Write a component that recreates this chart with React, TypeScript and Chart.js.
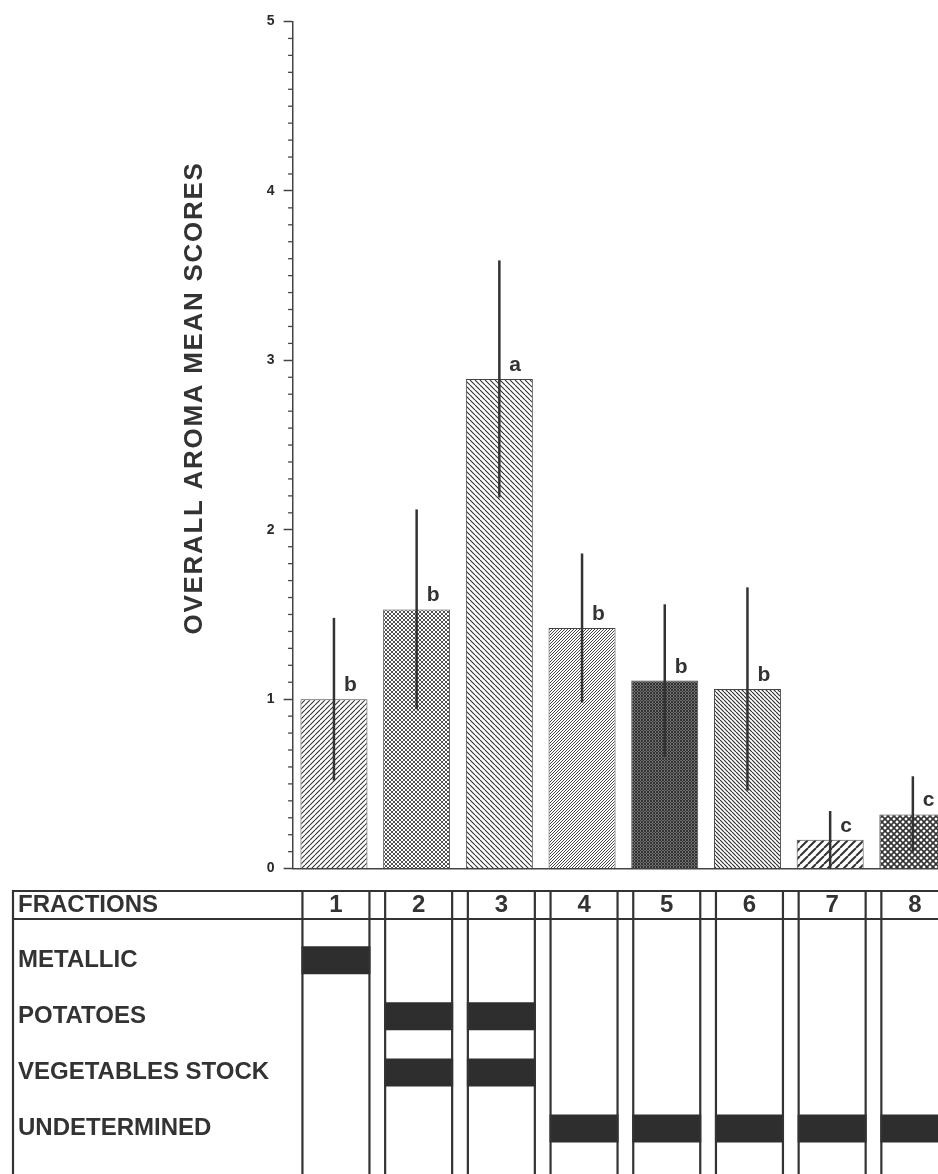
import React, { useEffect, useRef } from 'react';
import { Chart, registerables } from 'chart.js';

Chart.register(...registerables);

// ---------- data ----------
const FRACTIONS = ['1', '2', '3', '4', '5', '6', '7', '8'];
const MEAN_SCORES = [1.0, 1.53, 2.89, 1.42, 1.11, 1.06, 0.17, 0.32];
const ERROR_HALF = [0.48, 0.59, 0.7, 0.44, 0.45, 0.6, 0.17, 0.225];
const SIGNIFICANCE = ['b', 'b', 'a', 'b', 'b', 'b', 'c', 'c'];
const Y_AXIS_TITLE = 'OVERALL AROMA MEAN SCORES';
const TABLE_HEADER = 'FRACTIONS';
const DESCRIPTORS = ['METALLIC', 'POTATOES', 'VEGETABLES STOCK', 'UNDETERMINED'];
const METALLIC = [1, 0, 0, 0, 0, 0, 0, 0];
const POTATOES = [0, 1, 1, 0, 0, 0, 0, 0];
const VEGETABLES_STOCK = [0, 1, 1, 0, 0, 0, 0, 0];
const UNDETERMINED = [0, 0, 0, 1, 1, 1, 1, 1];
const DESCRIPTOR_ROWS = [METALLIC, POTATOES, VEGETABLES_STOCK, UNDETERMINED];

// ---------- styling ----------
const INK = '#333333';
const FONT = '"Liberation Sans", Arial, Helvetica, sans-serif';
const CANVAS_W = 960;
const TOP_H = 886;
const TABLE_TOP = 880;
const TABLE_H = 294;
const CAT_W = 82.7;

type Kind = 'fwd' | 'back' | 'cross';
const PATTERN_SPECS: { kind: Kind; size: number; lw: number }[] = [
  { kind: 'fwd', size: 5, lw: 1.1 },
  { kind: 'cross', size: 4, lw: 0.85 },
  { kind: 'back', size: 5, lw: 1.1 },
  { kind: 'fwd', size: 3, lw: 0.9 },
  { kind: 'cross', size: 3, lw: 1.3 },
  { kind: 'back', size: 4, lw: 1.2 },
  { kind: 'fwd', size: 8, lw: 2 },
  { kind: 'cross', size: 6, lw: 1.6 },
];

function makePattern(kind: Kind, size: number, lw: number): CanvasPattern | string {
  const c = document.createElement('canvas');
  c.width = size;
  c.height = size;
  const g = c.getContext('2d');
  if (!g) return '#fff';
  g.fillStyle = '#ffffff';
  g.fillRect(0, 0, size, size);
  g.strokeStyle = INK;
  g.lineWidth = lw;
  const fwd = () => {
    g.beginPath();
    for (const o of [-size, 0, size]) {
      g.moveTo(o, size);
      g.lineTo(o + size, 0);
    }
    g.stroke();
  };
  const back = () => {
    g.beginPath();
    for (const o of [-size, 0, size]) {
      g.moveTo(o, 0);
      g.lineTo(o + size, size);
    }
    g.stroke();
  };
  if (kind === 'fwd' || kind === 'cross') fwd();
  if (kind === 'back' || kind === 'cross') back();
  return g.createPattern(c, 'repeat') || '#fff';
}

const topDecor = {
  id: 'topDecor',
  afterDatasetsDraw(chart: any) {
    const ctx = chart.ctx as CanvasRenderingContext2D;
    const y = chart.scales.y;
    const meta = chart.getDatasetMeta(0);
    ctx.save();
    ctx.strokeStyle = INK;
    ctx.lineWidth = 2.5;
    ctx.fillStyle = INK;
    ctx.font = `bold 21px ${FONT}`;
    ctx.textAlign = 'left';
    ctx.textBaseline = 'alphabetic';
    meta.data.forEach((bar: any, i: number) => {
      const v = MEAN_SCORES[i];
      const e = ERROR_HALF[i];
      const yTop = y.getPixelForValue(v + e);
      const yBot = y.getPixelForValue(Math.max(v - e, 0));
      ctx.beginPath();
      ctx.moveTo(bar.x, yTop);
      ctx.lineTo(bar.x, yBot);
      ctx.stroke();
      ctx.fillText(SIGNIFICANCE[i], bar.x + 10, y.getPixelForValue(v) - 8);
    });
    ctx.restore();
  },
  afterDraw(chart: any) {
    const ctx = chart.ctx as CanvasRenderingContext2D;
    const y = chart.scales.y;
    const left = chart.chartArea.left;
    ctx.save();
    // minor ticks every 0.1
    ctx.strokeStyle = '#444';
    ctx.lineWidth = 1.3;
    for (let k = 1; k < 50; k++) {
      if (k % 10 === 0) continue;
      const py = y.getPixelForValue(k / 10);
      ctx.beginPath();
      ctx.moveTo(left - 4.5, py);
      ctx.lineTo(left, py);
      ctx.stroke();
    }
    // rotated axis title
    ctx.translate(195, 398);
    ctx.rotate(-Math.PI / 2);
    ctx.fillStyle = INK;
    ctx.font = `bold 26px ${FONT}`;
    (ctx as any).letterSpacing = '1.7px';
    ctx.textAlign = 'center';
    ctx.textBaseline = 'middle';
    ctx.fillText(Y_AXIS_TITLE, 0, 0);
    ctx.restore();
  },
};

const tableDecor = {
  id: 'tableDecor',
  afterDatasetsDraw(chart: any) {
    const ctx = chart.ctx as CanvasRenderingContext2D;
    const x = chart.scales.x;
    const H = chart.height;
    const W = chart.width;
    ctx.save();
    ctx.strokeStyle = INK;
    ctx.lineWidth = 2.2;
    ctx.beginPath();
    ctx.moveTo(12, 11);
    ctx.lineTo(W, 11);
    ctx.moveTo(12, 39);
    ctx.lineTo(W, 39);
    ctx.moveTo(13, 10);
    ctx.lineTo(13, H);
    FRACTIONS.forEach((_, i) => {
      const cx = x.getPixelForValue(i);
      ctx.moveTo(cx - 33.5, 10);
      ctx.lineTo(cx - 33.5, H);
      ctx.moveTo(cx + 33.5, 10);
      ctx.lineTo(cx + 33.5, H);
    });
    ctx.stroke();
    ctx.fillStyle = INK;
    ctx.font = `bold 24px ${FONT}`;
    ctx.textBaseline = 'middle';
    ctx.textAlign = 'left';
    ctx.fillText(TABLE_HEADER, 18, 25);
    ctx.textAlign = 'center';
    (chart.data.labels as string[]).forEach((lab, i) => {
      ctx.fillText(lab, x.getPixelForValue(i), 25);
    });
    ctx.restore();
  },
};

export default function App() {
  const topRef = useRef<HTMLCanvasElement | null>(null);
  const tableRef = useRef<HTMLCanvasElement | null>(null);

  useEffect(() => {
    if (!topRef.current || !tableRef.current) return;
    const patterns = PATTERN_SPECS.map((p) => makePattern(p.kind, p.size, p.lw));
    const topLeft = 292.6;
    const topChart = new Chart(topRef.current, {
      type: 'bar',
      data: {
        labels: FRACTIONS,
        datasets: [
          {
            data: MEAN_SCORES,
            backgroundColor: patterns as any,
            borderColor: '#444',
            borderWidth: 1,
            barPercentage: 0.81,
            categoryPercentage: 1,
          },
        ],
      },
      options: {
        responsive: false,
        animation: false,
        layout: {
          padding: { top: 21.5, left: 0, bottom: 0, right: CANVAS_W - (topLeft + 8 * CAT_W) },
        },
        plugins: { legend: { display: false }, tooltip: { enabled: false } },
        scales: {
          x: {
            type: 'category',
            offset: true,
            ticks: { display: false },
            grid: { display: false },
            border: { display: true, color: '#444', width: 1.5 },
            afterFit: (s: any) => {
              s.height = 13;
            },
          },
          y: {
            min: 0,
            max: 5,
            ticks: {
              stepSize: 1,
              padding: 9,
              color: '#2a2a2a',
              font: { family: FONT, size: 14, weight: 'bold' },
            },
            grid: {
              display: true,
              drawOnChartArea: false,
              drawTicks: true,
              tickLength: 9,
              tickWidth: 1.5,
              tickColor: '#444',
            },
            border: { display: true, color: '#444', width: 1.5 },
            afterFit: (s: any) => {
              s.width = topLeft;
            },
          },
        },
      } as any,
      plugins: [topDecor],
    });

    const tableLeft = 294.6;
    const tableChart = new Chart(tableRef.current, {
      type: 'bar',
      data: {
        labels: FRACTIONS,
        datasets: DESCRIPTORS.map((d, r) => ({
          label: d,
          data: DESCRIPTOR_ROWS[r].map((v) => (v ? [r + 0.75, r + 1.25] : null)),
          backgroundColor: '#2e2e2e',
          borderWidth: 0,
          grouped: false,
          barPercentage: 0.834,
          categoryPercentage: 1,
        })) as any,
      },
      options: {
        responsive: false,
        animation: false,
        layout: {
          padding: { left: 18, top: 52.1, bottom: 10.7, right: CANVAS_W - (tableLeft + 8 * CAT_W) },
        },
        plugins: { legend: { display: false }, tooltip: { enabled: false } },
        scales: {
          x: { type: 'category', display: false, offset: true },
          y: {
            type: 'linear',
            min: 0.5,
            max: 4.5,
            reverse: true,
            afterBuildTicks: (s: any) => {
              s.ticks = DESCRIPTORS.map((_, i) => ({ value: i + 1 }));
            },
            ticks: {
              callback: (v: any) => DESCRIPTORS[Number(v) - 1],
              crossAlign: 'far',
              color: INK,
              font: { family: FONT, size: 24, weight: 'bold' },
            },
            grid: { display: false },
            border: { display: false },
            afterFit: (s: any) => {
              s.width = tableLeft - 18;
            },
          },
        },
      } as any,
      plugins: [tableDecor],
    });

    return () => {
      topChart.destroy();
      tableChart.destroy();
    };
  }, []);

  return (
    <div
      style={{
        position: 'absolute',
        left: 0,
        top: 0,
        width: 938,
        height: 1174,
        overflow: 'hidden',
        background: '#ffffff',
      }}
    >
      <canvas
        ref={topRef}
        width={CANVAS_W}
        height={TOP_H}
        style={{ position: 'absolute', left: 0, top: 0, width: CANVAS_W, height: TOP_H }}
      />
      <canvas
        ref={tableRef}
        width={CANVAS_W}
        height={TABLE_H}
        style={{ position: 'absolute', left: 0, top: TABLE_TOP, width: CANVAS_W, height: TABLE_H }}
      />
    </div>
  );
}
